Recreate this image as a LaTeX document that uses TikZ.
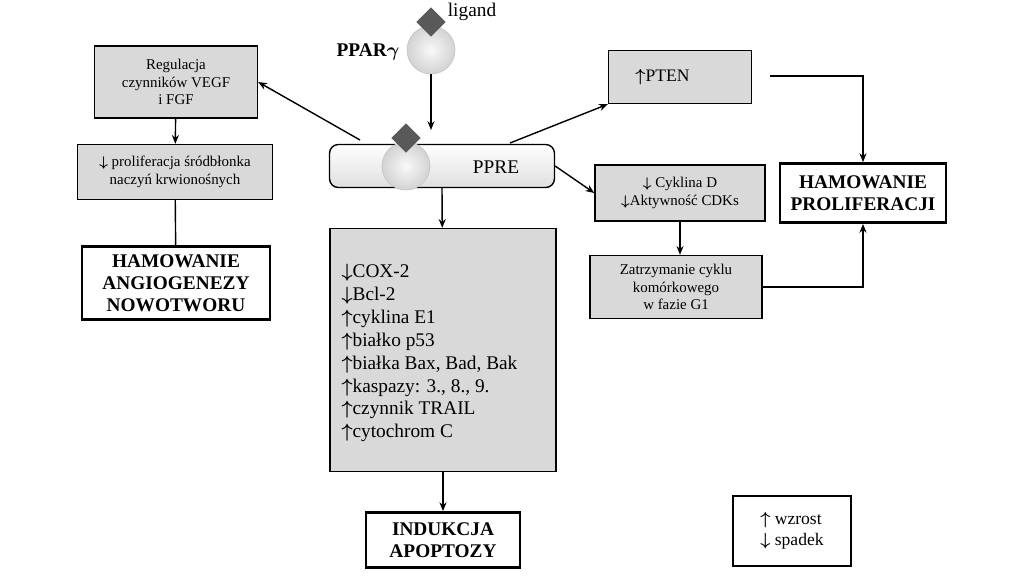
\documentclass[tikz,border=0pt]{standalone}
\usepackage{amsmath}
\usepackage{fontspec}
\setmainfont{Liberation Serif}
\usetikzlibrary{arrows.meta,shapes.geometric}
\definecolor{boxgray}{HTML}{D9D9D9}
\newcommand{\up}{$\boldsymbol\uparrow$}
\newcommand{\down}{$\boldsymbol\downarrow$}
\begin{document}
\begin{tikzpicture}[x=0.02cm,y=-0.02cm,>={Stealth[length=5pt,width=4pt]},thick,
                small box/.style={draw,fill=boxgray,align=center,font=\fontsize{8.5}{10}\selectfont,inner sep=1pt},
                end box/.style={draw,line width=1.6pt,align=center,font=\fontsize{11}{12.5}\selectfont\bfseries,inner sep=1pt},
                ball/.style={circle,minimum size=0.96cm,inner sep=0pt,inner color=gray!5,outer color=gray!35,draw=gray!45,thin},
                lig/.style={diamond,fill=gray!70!black,minimum size=0.6cm,inner sep=0pt,aspect=1}]
                \useasboundingbox (0,0) rectangle (1024,576);
                % receptor with ligand
                \node[ball] (ppar) at (431,50) {};
                \node[lig] (lig1) at (431,22) {};
                \node[font=\fontsize{11}{12}\selectfont\bfseries] (pparlab) at (368,52) {PPAR$\boldsymbol\gamma$};
                \node[font=\fontsize{11}{12}\selectfont] (liglab) at (472,12) {ligand};
                % PPRE
                \node[draw,rounded corners=5pt,top color=white,bottom color=gray!25,minimum width=4.5cm,minimum height=0.86cm] (ppre) at (442,166) {};
                \node[ball] (ppar2) at (406,166) {};
                \node[lig] (lig2) at (406,138) {};
                \node[font=\fontsize{11}{12}\selectfont] (pprelab) at (496,167) {PPRE};
                \coordinate (ppreL) at (360,140);
                \coordinate (ppreR) at (510,143);
                % left branch
                \node[small box,minimum width=3.26cm,minimum height=1.44cm] (reg) at (176,82) {Regulacja\\czynników  VEGF\\i FGF};
                \node[small box,minimum width=3.9cm,minimum height=1.1cm] (prol) at (175,172) {\down\ proliferacja  śródbłonka\\naczyń  krwionośnych};
                \node[end box,minimum width=3.76cm,minimum height=1.46cm] (angio) at (176,283) {HAMOWANIE\\ANGIOGENEZY\\NOWOTWORU};
                % middle branch
                \node[draw,fill=boxgray,minimum width=4.52cm,minimum height=4.86cm] (list) at (443,350) {};
                \node[align=left,anchor=north west,font=\fontsize{11}{13}\selectfont] (listtxt) at (335,258)
                  {\down COX-2\\\down Bcl-2\\\up cyklina E1\\\up białko p53\\\up białka Bax, Bad, Bak\\\up kaspazy: 3., 8., 9.\\\up czynnik TRAIL\\\up cytochrom C};
                \node[end box,minimum width=3.08cm,minimum height=1.1cm] (apop) at (443,540) {INDUKCJA\\APOPTOZY};
                % right branch
                \node[small box,minimum width=2.86cm,minimum height=1.06cm,font=\fontsize{10}{12}\selectfont] (pten) at (680,77) {\up PTEN\phantom{xxxx}};
                \node[small box,minimum width=3.4cm,minimum height=1.12cm] (cyk) at (680,193) {\down\ Cyklina D\\\down Aktywność  CDKs};
                \node[small box,minimum width=3.44cm,minimum height=1.26cm] (zat) at (676,287) {Zatrzymanie  cyklu\\komórkowego\\w fazie G1};
                \node[end box,minimum width=3.32cm,minimum height=1.18cm] (prolif) at (863,193) {HAMOWANIE\\PROLIFERACJI};
                \coordinate (ptenout) at (770,76);
                % legend
                \node[draw,minimum width=2.36cm,minimum height=1.4cm,align=left,font=\fontsize{10}{12}\selectfont] (leg) at (792,531) {\up\ wzrost\\\down\ spadek};

                \draw[->] (ppar) -- (431,130);
                \draw[->] (ppreL) -- (reg.east);
                \draw[->] (reg) -- (prol);
                \draw (prol) -- (angio);
                \draw[->] (ppreR) -- (pten.south west);
                \draw[->] (ppre.east) -- (cyk.west);
                \draw[->] (cyk) -- (cyk.south |- zat.north);
                \draw[->] (ptenout) -| (prolif.north);
                \draw[->] (zat.east) -| (prolif.south);
                \draw[->] (ppre.south) -- (list);
                \draw[->] (list) -- (apop);
\end{tikzpicture}
\end{document}
